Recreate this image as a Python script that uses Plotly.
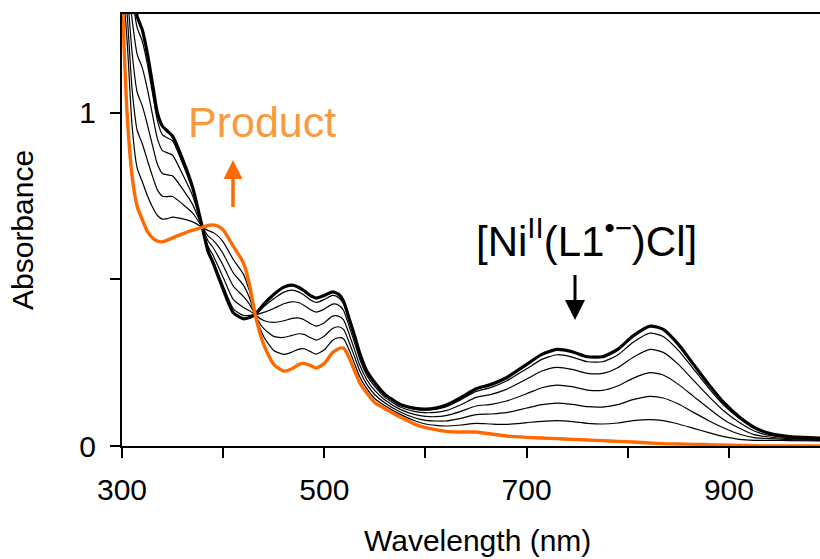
import plotly.graph_objects as go

# ---------------- data ----------------
wavelength = [300, 305, 310, 315, 320, 325, 330, 335, 340, 345, 350, 360, 370, 378, 385, 390,
              395, 400, 410, 420, 426, 432, 440, 450, 460, 468, 475, 480, 486, 492, 500, 508,
              514, 519, 525, 530, 535, 542, 550, 560, 575, 590, 600, 610, 620, 635, 650, 665,
              680, 700, 715, 730, 745, 760, 775, 790, 805, 822, 835, 850, 865, 880, 895, 910,
              925, 940, 960, 990]

start_complex = [1.62, 1.50, 1.38, 1.29, 1.25, 1.18, 1.09, 1.00, 0.96, 0.945, 0.93, 0.86, 0.775, 0.675, 0.585, 0.55,
                 0.51, 0.47, 0.40, 0.382, 0.386, 0.396, 0.425, 0.455, 0.477, 0.483, 0.476, 0.466, 0.452, 0.444, 0.452, 0.463,
                 0.456, 0.435, 0.378, 0.33, 0.279, 0.225, 0.19, 0.155, 0.125, 0.113, 0.111, 0.114, 0.122, 0.145, 0.172, 0.185,
                 0.205, 0.245, 0.275, 0.29, 0.283, 0.268, 0.268, 0.29, 0.33, 0.36, 0.35, 0.305, 0.245, 0.185, 0.13, 0.088,
                 0.056, 0.038, 0.028, 0.024]

product = [1.36, 1.00, 0.81, 0.72, 0.68, 0.645, 0.625, 0.615, 0.613, 0.618, 0.625, 0.637, 0.648, 0.655, 0.662, 0.664,
           0.66, 0.649, 0.60, 0.55, 0.485, 0.39, 0.305, 0.245, 0.225, 0.232, 0.245, 0.248, 0.242, 0.234, 0.248, 0.28,
           0.292, 0.294, 0.262, 0.225, 0.19, 0.159, 0.13, 0.112, 0.087, 0.065, 0.055, 0.049, 0.044, 0.042, 0.042, 0.036,
           0.03, 0.026, 0.024, 0.022, 0.02, 0.018, 0.016, 0.014, 0.012, 0.009, 0.007, 0.006, 0.005, 0.004, 0.003, 0.002,
           0.001, 0.0, 0.0, 0.0]

scan_1 = [1.60, 1.48, 1.35, 1.256, 1.216, 1.148, 1.062, 0.977, 0.934, 0.925, 0.916, 0.847, 0.767, 0.674, 0.59, 0.557,
          0.519, 0.481, 0.412, 0.392, 0.392, 0.395, 0.418, 0.442, 0.462, 0.468, 0.462, 0.453, 0.439, 0.431, 0.44, 0.452,
          0.446, 0.427, 0.371, 0.324, 0.274, 0.221, 0.186, 0.152, 0.123, 0.11, 0.108, 0.11, 0.117, 0.139, 0.164, 0.176,
          0.195, 0.232, 0.26, 0.274, 0.267, 0.253, 0.253, 0.273, 0.311, 0.339, 0.329, 0.287, 0.231, 0.174, 0.122, 0.083,
          0.053, 0.036, 0.027, 0.023]

scan_2 = [1.57, 1.43, 1.28, 1.176, 1.136, 1.073, 0.997, 0.923, 0.887, 0.88, 0.873, 0.815, 0.75, 0.671, 0.60, 0.573,
          0.54, 0.506, 0.44, 0.416, 0.406, 0.395, 0.401, 0.413, 0.427, 0.433, 0.43, 0.422, 0.41, 0.402, 0.411, 0.426,
          0.423, 0.407, 0.355, 0.309, 0.261, 0.212, 0.178, 0.146, 0.117, 0.103, 0.10, 0.101, 0.106, 0.124, 0.146, 0.155,
          0.17, 0.201, 0.225, 0.236, 0.23, 0.218, 0.218, 0.235, 0.266, 0.29, 0.281, 0.245, 0.197, 0.149, 0.105, 0.071,
          0.045, 0.032, 0.025, 0.021]

scan_3 = [1.52, 1.37, 1.18, 1.062, 1.022, 0.966, 0.904, 0.846, 0.818, 0.814, 0.811, 0.771, 0.724, 0.667, 0.616, 0.596,
          0.57, 0.542, 0.48, 0.449, 0.426, 0.394, 0.377, 0.371, 0.376, 0.383, 0.384, 0.379, 0.368, 0.36, 0.37, 0.39,
          0.39, 0.379, 0.332, 0.288, 0.243, 0.199, 0.166, 0.138, 0.11, 0.094, 0.089, 0.088, 0.091, 0.104, 0.12, 0.125,
          0.135, 0.157, 0.175, 0.183, 0.178, 0.168, 0.167, 0.18, 0.203, 0.22, 0.213, 0.185, 0.149, 0.113, 0.079, 0.054,
          0.034, 0.027, 0.022, 0.019]

scan_4 = [1.46, 1.30, 1.07, 0.948, 0.908, 0.859, 0.811, 0.769, 0.75, 0.749, 0.749, 0.726, 0.699, 0.663, 0.631, 0.618,
          0.60, 0.577, 0.52, 0.483, 0.445, 0.392, 0.353, 0.329, 0.326, 0.332, 0.337, 0.335, 0.326, 0.318, 0.33, 0.353,
          0.358, 0.35, 0.308, 0.267, 0.226, 0.185, 0.154, 0.129, 0.102, 0.084, 0.077, 0.075, 0.075, 0.083, 0.094, 0.096,
          0.10, 0.114, 0.124, 0.129, 0.125, 0.118, 0.117, 0.124, 0.139, 0.149, 0.144, 0.126, 0.101, 0.076, 0.054, 0.036,
          0.025, 0.022, 0.019, 0.017]

scan_5 = [1.41, 1.22, 0.96, 0.834, 0.794, 0.752, 0.718, 0.692, 0.681, 0.683, 0.687, 0.682, 0.673, 0.659, 0.647, 0.641,
          0.63, 0.613, 0.56, 0.516, 0.465, 0.391, 0.329, 0.287, 0.275, 0.282, 0.291, 0.292, 0.284, 0.276, 0.289, 0.317,
          0.325, 0.322, 0.285, 0.246, 0.208, 0.172, 0.142, 0.121, 0.095, 0.075, 0.066, 0.062, 0.06, 0.063, 0.068, 0.066,
          0.065, 0.07, 0.074, 0.076, 0.073, 0.068, 0.066, 0.069, 0.076, 0.079, 0.076, 0.066, 0.053, 0.04, 0.028, 0.02,
          0.017, 0.017, 0.016, 0.015]

thin_scans = [scan_1, scan_2, scan_3, scan_4, scan_5]

x_tickvals = [300, 500, 700, 900]
x_minor_ticks = [400, 600, 800]
y_tickvals = [0, 1]
y_minor_ticks = [0.5]

ORANGE = "#FF6A00"
ORANGE_TEXT = "#F99A3C"
FONT = "Arial, Liberation Sans, sans-serif"

# ---------------- figure ----------------
fig = go.Figure()
for s in thin_scans:
    fig.add_trace(go.Scatter(x=wavelength, y=s, mode="lines",
                             line=dict(color="#000000", width=1.2, shape="spline", smoothing=0.6),
                             hoverinfo="skip"))
fig.add_trace(go.Scatter(x=wavelength, y=start_complex, mode="lines",
                         line=dict(color="#000000", width=3.2, shape="spline", smoothing=0.6)))
fig.add_trace(go.Scatter(x=wavelength, y=product, mode="lines",
                         line=dict(color=ORANGE, width=3.4, shape="spline", smoothing=0.6)))

W, H = 820, 559
L, R, T, B = 122, 0, 14, 113
pw, ph = W - L - R, H - T - B


def px_x(p):
    return (p - L) / pw


def px_y(p):
    return (H - B - p) / ph


fig.update_layout(
    width=W, height=H,
    margin=dict(l=L, r=R, t=T, b=B),
    plot_bgcolor="white", paper_bgcolor="white",
    showlegend=False,
    font=dict(family=FONT, size=30, color="black"),
    xaxis=dict(range=[300, 990], tickvals=x_tickvals,
               showline=True, linecolor="black", linewidth=2, mirror=True,
               ticks="outside", ticklen=10, tickwidth=1.5, tickcolor="black",
               minor=dict(tickvals=x_minor_ticks, ticks="outside", ticklen=10,
                          tickwidth=1.5, tickcolor="black", showgrid=False),
               showgrid=False, zeroline=False, ticklabelstandoff=6,
               tickfont=dict(family=FONT, size=30, color="black")),
    yaxis=dict(range=[0, 1.297], tickvals=y_tickvals,
               showline=True, linecolor="black", linewidth=2,
               ticks="outside", ticklen=10, tickwidth=1.5, tickcolor="black",
               minor=dict(tickvals=y_minor_ticks, ticks="outside", ticklen=10,
                          tickwidth=1.5, tickcolor="black", showgrid=False),
               showgrid=False, zeroline=False, ticklabelstandoff=8,
               tickfont=dict(family=FONT, size=30, color="black")),
)

annotations = [
    dict(text="Absorbance", xref="paper", yref="paper", x=px_x(22), y=px_y(230),
         textangle=-90, showarrow=False, xanchor="center", yanchor="middle",
         font=dict(family=FONT, size=30, color="black")),
    dict(text="Wavelength (nm)", xref="paper", yref="paper", x=px_x(477), y=px_y(540),
         showarrow=False, xanchor="center", yanchor="middle",
         font=dict(family=FONT, size=30, color="black")),
    dict(text="Product", xref="paper", yref="paper", x=px_x(186), y=px_y(122),
         showarrow=False, xanchor="left", yanchor="middle",
         font=dict(family=FONT, size=43, color=ORANGE_TEXT)),
    dict(text="[Ni<sup>II</sup>(L1<sup>•−</sup>)Cl]", xref="paper", yref="paper",
         x=px_x(586), y=px_y(238), showarrow=False, xanchor="center", yanchor="middle",
         font=dict(family=FONT, size=42, color="black")),
]
fig.update_layout(annotations=annotations)

# arrows drawn as shapes (shaft + filled head)
shapes = [
    dict(type="line", xref="paper", yref="paper",
         x0=px_x(233), x1=px_x(233), y0=px_y(207), y1=px_y(176),
         line=dict(color=ORANGE, width=3.5)),
    dict(type="path", xref="paper", yref="paper",
         path="M {a},{b} L {c},{b} L {d},{e} Z".format(
             a=px_x(223.5), c=px_x(242.5), b=px_y(179), d=px_x(233), e=px_y(160)),
         fillcolor=ORANGE, line=dict(color=ORANGE, width=0)),
    dict(type="line", xref="paper", yref="paper",
         x0=px_x(575), x1=px_x(575), y0=px_y(275), y1=px_y(303),
         line=dict(color="black", width=3)),
    dict(type="path", xref="paper", yref="paper",
         path="M {a},{b} L {c},{b} L {d},{e} Z".format(
             a=px_x(565), c=px_x(585), b=px_y(300), d=px_x(575), e=px_y(320)),
         fillcolor="black", line=dict(color="black", width=0)),
]
fig.update_layout(shapes=shapes)

fig.write_html("out.html")
